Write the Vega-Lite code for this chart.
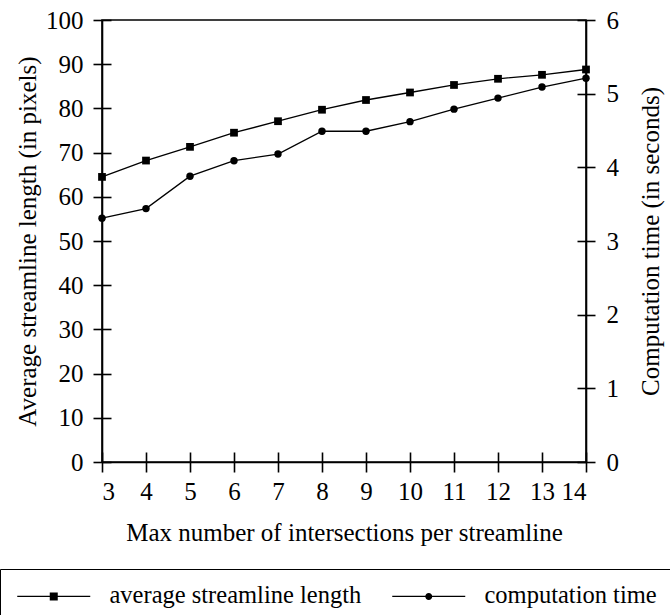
{
  "$schema": "https://vega.github.io/schema/vega-lite/v6.json",
  "width": 484,
  "height": 442,
  "autosize": "none",
  "padding": {"left": 102, "top": 20, "right": 84, "bottom": 153},
  "background": "white",
  "config": {
    "font": "Liberation Serif",
    "view": {"stroke": "black", "strokeWidth": 1.6},
    "axis": {
      "labelFont": "Liberation Serif",
      "titleFont": "Liberation Serif",
      "labelFontSize": 25,
      "titleFontSize": 25,
      "titleFontWeight": "normal",
      "labelColor": "black",
      "titleColor": "black",
      "domainColor": "black",
      "tickColor": "black",
      "domainWidth": 1.6,
      "tickWidth": 1.6,
      "grid": false
    },
    "legend": {"labelFont": "Liberation Serif", "titleFont": "Liberation Serif"}
  },
  "data": {
    "values": [
      {"n": 3, "length": 64.5, "time": 3.31},
      {"n": 4, "length": 68.2, "time": 3.44},
      {"n": 5, "length": 71.3, "time": 3.88},
      {"n": 6, "length": 74.5, "time": 4.09},
      {"n": 7, "length": 77.1, "time": 4.18},
      {"n": 8, "length": 79.7, "time": 4.49},
      {"n": 9, "length": 81.9, "time": 4.49},
      {"n": 10, "length": 83.6, "time": 4.62},
      {"n": 11, "length": 85.3, "time": 4.79},
      {"n": 12, "length": 86.7, "time": 4.94},
      {"n": 13, "length": 87.6, "time": 5.09},
      {"n": 14, "length": 88.8, "time": 5.21}
    ]
  },
  "layer": [
    {
      "encoding": {
        "x": {
          "field": "n", "type": "quantitative",
          "scale": {"domain": [3, 14], "nice": false, "zero": false},
          "axis": {
            "orient": "bottom",
            "values": [3, 4, 5, 6, 7, 8, 9, 10, 11, 12, 13, 14],
            "tickSize": 10, "labelPadding": 7,
            "title": "Max number of intersections per streamline",
            "titleX": 242, "titleY": 70, "titleBaseline": "middle", "titleAlign": "center"
          }
        },
        "y": {
          "field": "length", "type": "quantitative",
          "scale": {"domain": [0, 100], "nice": false},
          "axis": {
            "orient": "left",
            "values": [0, 10, 20, 30, 40, 50, 60, 70, 80, 90, 100],
            "tickSize": 9, "labelPadding": 10,
            "title": "Average streamline length (in pixels)",
            "titleX": -75, "titleY": 221, "titleAngle": -90, "titleBaseline": "middle", "titleAlign": "center"
          }
        }
      },
      "layer": [
        {"mark": {"type": "line", "color": "black", "strokeWidth": 1.3}},
        {"mark": {"type": "point", "shape": "square", "filled": true, "color": "black", "size": 60, "opacity": 1}}
      ]
    },
    {
      "encoding": {
        "x": {
          "field": "n", "type": "quantitative",
          "scale": {"domain": [3, 14], "nice": false, "zero": false},
          "axis": null
        },
        "y": {
          "field": "time", "type": "quantitative",
          "scale": {"domain": [0, 6], "nice": false},
          "axis": {
            "orient": "right",
            "values": [0, 1, 2, 3, 4, 5, 6],
            "tickSize": 9, "labelPadding": 11,
            "title": "Computation time (in seconds)",
            "titleX": 64, "titleY": 221, "titleAngle": -90, "titleBaseline": "middle", "titleAlign": "center"
          }
        }
      },
      "layer": [
        {"mark": {"type": "line", "color": "black", "strokeWidth": 1.3}},
        {"mark": {"type": "point", "shape": "circle", "filled": true, "color": "black", "size": 55, "opacity": 1}}
      ]
    },
    {
      "mark": {"type": "line", "opacity": 0},
      "encoding": {
        "x": {
          "field": "n", "type": "quantitative",
          "scale": {"domain": [3, 14], "nice": false, "zero": false},
          "axis": {
            "orient": "bottom",
            "values": [3, 4, 5, 6, 7, 8, 9, 10, 11, 12, 13, 14],
            "tickSize": -10, "labels": false, "domain": false, "title": null
          }
        },
        "y": {
          "field": "length", "type": "quantitative",
          "scale": {"domain": [0, 100], "nice": false},
          "axis": {
            "orient": "left",
            "values": [0, 10, 20, 30, 40, 50, 60, 70, 80, 90, 100],
            "tickSize": -9, "labels": false, "domain": false, "title": null
          }
        }
      }
    },
    {
      "mark": {"type": "line", "opacity": 0},
      "encoding": {
        "x": {
          "field": "n", "type": "quantitative",
          "scale": {"domain": [3, 14], "nice": false, "zero": false},
          "axis": null
        },
        "y": {
          "field": "time", "type": "quantitative",
          "scale": {"domain": [0, 6], "nice": false},
          "axis": {
            "orient": "right",
            "values": [0, 1, 2, 3, 4, 5, 6],
            "tickSize": -9, "labels": false, "domain": false, "title": null
          }
        }
      }
    },
    {
      "transform": [{"filter": "false"}],
      "mark": {"type": "point", "filled": true, "fill": "black", "opacity": 1},
      "encoding": {
        "x": {"field": "n", "type": "quantitative", "scale": {"domain": [3, 14]}, "axis": null},
        "y": {"field": "length", "type": "quantitative", "scale": {"domain": [0, 100]}, "axis": null},
        "shape": {
          "field": "series", "type": "nominal",
          "scale": {
            "domain": ["average streamline length", "computation time"],
            "range": [
              "M-1,-0.065L6.3,-0.065L6.3,0.065L-1,0.065ZM2.25,-0.4L3.05,-0.4L3.05,0.4L2.25,0.4Z",
              "M-1,-0.065L6.3,-0.065L6.3,0.065L-1,0.065ZM3.0,0A0.35,0.35 0 1,1 2.3,0A0.35,0.35 0 1,1 3.0,0Z"
            ]
          },
          "legend": {
            "orient": "none",
            "legendX": -102,
            "legendY": 549,
            "direction": "horizontal",
            "title": null,
            "padding": 15,
            "strokeColor": "black",
            "labelFont": "Liberation Serif",
            "labelFontSize": 24.5,
            "labelColor": "black",
            "labelLimit": 0,
            "symbolSize": 400,
            "labelOffset": 70,
            "columnPadding": 27,
            "symbolFillColor": "black",
            "symbolOpacity": 1,
            "encode": {
              "legend": {"strokeWidth": {"value": 1.6}},
              "symbols": {
                "fill": {"value": "black"},
                "opacity": {"value": 1}
              }
            }
          }
        }
      }
    }
  ],
  "resolve": {"scale": {"x": "independent", "y": "independent"}}
}
